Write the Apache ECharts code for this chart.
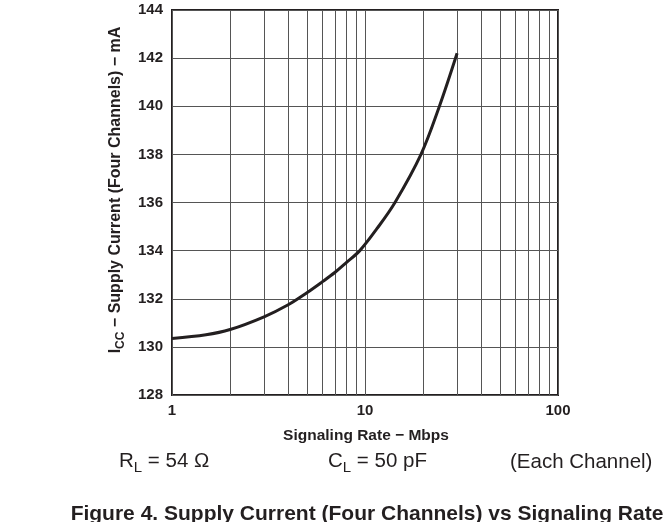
<!DOCTYPE html>
<html>
<head>
    <meta charset="utf-8" />
    <title>Supply Current vs Signaling Rate</title>
    <script src="https://cdn.jsdelivr.net/npm/echarts@6/dist/echarts.min.js"></script>
    <style>
        html, body { margin: 0; padding: 0; background: #fff; }
    </style>
</head>
<body>
    <div id="main" style="width: 671px;height:522px;"></div>
</body>
<script>
    // curve (Mbps, mA)
    var rate = [1, 1.5, 2, 3, 4, 5, 6, 7, 8, 9.4, 11.5, 14.3, 19.5, 24.3, 30];
    var current = [130.35, 130.5, 130.72, 131.25, 131.75, 132.25, 132.7, 133.1, 133.5, 134,
        134.9, 136, 138, 140, 142.2];

    // log grid lines between the decades
    var minorRates = [2, 3, 4, 5, 6, 7, 8, 9, 20, 30, 40, 50, 60, 70, 80, 90];

    var font = '"Liberation Sans", Arial, sans-serif';
    var ink = '#231f20';
    var gridColor = '#555';

    var myChart = echarts.init(document.getElementById('main'));

    var option = {
        animation: false,
        grid: {
            left: 172,
            top: 10,
            right: 113,
            bottom: 127,
            show: true,
            borderColor: ink,
            borderWidth: 2,
            backgroundColor: 'transparent'
        },
        xAxis: {
            type: 'log',
            logBase: 10,
            min: 1,
            max: 100,
            axisLine: { show: false },
            axisTick: { show: false },
            axisLabel: {
                margin: 8,
                fontFamily: font,
                fontWeight: 'bold',
                fontSize: 15,
                color: ink
            },
            splitLine: { show: true, lineStyle: { color: gridColor, width: 1 } }
        },
        yAxis: {
            type: 'value',
            min: 128,
            max: 144,
            interval: 2,
            axisLine: { show: false },
            axisTick: { show: false },
            axisLabel: {
                margin: 9,
                fontFamily: font,
                fontWeight: 'bold',
                fontSize: 15,
                color: ink
            },
            splitLine: { show: true, lineStyle: { color: gridColor, width: 1 } }
        },
        graphic: [
            {
                type: 'text',
                x: 117,
                y: 190,
                rotation: Math.PI / 2,
                style: {
                    text: '{b|I}{s|CC}{b| − Supply Current (Four Channels) − mA}',
                    align: 'center',
                    verticalAlign: 'middle',
                    rich: {
                        b: { fontFamily: font, fontWeight: 'bold', fontSize: 16, fill: ink, verticalAlign: 'bottom', padding: [0, 0, 3, 0] },
                        s: { fontFamily: font, fontWeight: 'bold', fontSize: 12, fill: ink, verticalAlign: 'bottom' }
                    }
                }
            },
            {
                type: 'text',
                x: 366,
                y: 436,
                style: {
                    text: 'Signaling Rate − Mbps',
                    fontFamily: font,
                    fontWeight: 'bold',
                    fontSize: 15.5,
                    fill: ink,
                    align: 'center',
                    verticalAlign: 'middle'
                }
            },
            {
                type: 'text',
                x: 119,
                y: 463,
                style: {
                    text: '{n|R}{s|L}{n| = 54 Ω}',
                    align: 'left',
                    verticalAlign: 'middle',
                    rich: {
                        n: { fontFamily: font, fontSize: 20.5, fill: ink, verticalAlign: 'bottom', padding: [0, 0, 4, 0] },
                        s: { fontFamily: font, fontSize: 15, fill: ink, verticalAlign: 'bottom' }
                    }
                }
            },
            {
                type: 'text',
                x: 328,
                y: 463,
                style: {
                    text: '{n|C}{s|L}{n| = 50 pF}',
                    align: 'left',
                    verticalAlign: 'middle',
                    rich: {
                        n: { fontFamily: font, fontSize: 20.5, fill: ink, verticalAlign: 'bottom', padding: [0, 0, 4, 0] },
                        s: { fontFamily: font, fontSize: 15, fill: ink, verticalAlign: 'bottom' }
                    }
                }
            },
            {
                type: 'text',
                x: 510,
                y: 462,
                style: {
                    text: '(Each Channel)',
                    fontFamily: font,
                    fontSize: 20.5,
                    fill: ink,
                    align: 'left',
                    verticalAlign: 'middle'
                }
            },
            {
                type: 'text',
                x: 367,
                y: 514,
                style: {
                    text: 'Figure 4. Supply Current (Four Channels) vs Signaling Rate',
                    fontFamily: font,
                    fontWeight: 'bold',
                    fontSize: 21,
                    fill: ink,
                    align: 'center',
                    verticalAlign: 'middle'
                }
            }
        ],
        series: [
            {
                type: 'line',
                data: rate.map(function (r, i) { return [r, current[i]]; }),
                smooth: 0.35,
                showSymbol: false,
                lineStyle: { color: ink, width: 3 },
                z: 5,
                markLine: {
                    silent: true,
                    symbol: 'none',
                    label: { show: false },
                    lineStyle: { color: gridColor, width: 1, type: 'solid' },
                    data: minorRates.map(function (v) { return { xAxis: v }; }),
                    z: 1
                }
            }
        ]
    };

    myChart.setOption(option);
</script>
</html>
